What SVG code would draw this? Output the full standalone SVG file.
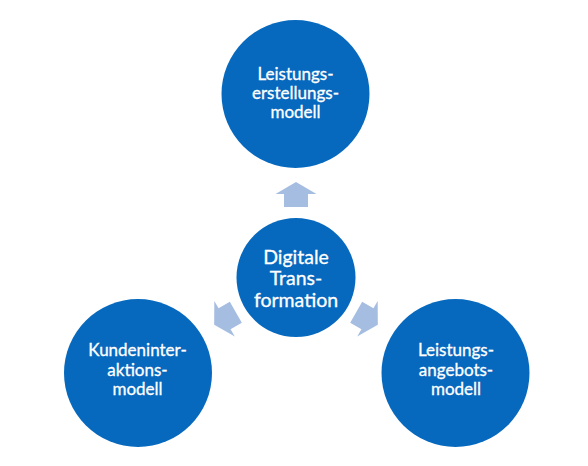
<svg xmlns="http://www.w3.org/2000/svg" width="588" height="466" viewBox="0 0 588 466">
<style>
.c{fill:#0769BE}
.a{fill:#A6BDE2}
.t{fill:#FFFFFF;stroke:#FFFFFF;stroke-width:0.3;font-family:Lato,"Open Sans","Liberation Sans",sans-serif;text-anchor:middle}
.s{font-size:17px}
.b{font-size:19.5px}
</style>
<defs>
<polygon id="arr" points="0,-12.5 20.5,-0.5 12,-0.5 12,12.5 -12,12.5 -12,-0.5 -20.5,-0.5"/>
</defs>
<rect width="588" height="466" fill="#FFFFFF"/>
<g id="connectors">
<use href="#arr" class="a" transform="translate(296,194.5)"/>
<use href="#arr" class="a" transform="translate(225,318.5) rotate(-120)"/>
<use href="#arr" class="a" transform="translate(367,318.5) rotate(120)"/>
</g>
<g id="center">
<circle class="c" cx="296" cy="277.5" r="59.5"/>
<text class="t b" x="296" y="263.5">Digitale</text>
<text class="t b" x="296" y="285">Trans-</text>
<text class="t b" x="296" y="306.5">formation</text>
</g>
<g id="top">
<circle class="c" cx="295.5" cy="94" r="74"/>
<text class="t s" x="295.5" y="79.5">Leistungs-</text>
<text class="t s" x="295.5" y="98.5">erstellungs-</text>
<text class="t s" x="295.5" y="117.5">modell</text>
</g>
<g id="left">
<circle class="c" cx="138" cy="373" r="74"/>
<text class="t s" x="137.5" y="356">Kundeninter-</text>
<text class="t s" x="137.5" y="375.5">aktions-</text>
<text class="t s" x="137.5" y="395">modell</text>
</g>
<g id="right">
<circle class="c" cx="455.5" cy="373" r="74"/>
<text class="t s" x="456" y="356">Leistungs-</text>
<text class="t s" x="456" y="375.5">angebots-</text>
<text class="t s" x="456" y="395">modell</text>
</g>
</svg>
